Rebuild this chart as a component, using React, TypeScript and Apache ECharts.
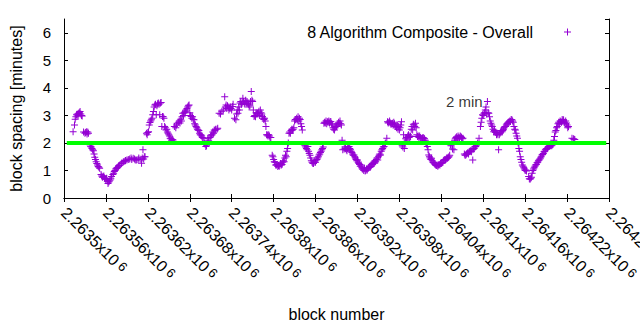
import React, { useEffect, useRef } from "react";
import * as echarts from "echarts";

const seriesName = "8 Algorithm Composite - Overall";
const baseBlock = 2263500;
const xMin = 2263500;
const xMax = 2264280;
const xStep = 60;
const yMin = 0;
const yMax = 6.5;
const yStep = 1;
const targetMinutes = 2;
const targetLine = [2263504, 2264276];
const targetLabel = "2 min";
const targetLabelPos = [2264046, 3.5];

// block offsets (from baseBlock) and block spacing in minutes
const blockOffsets = [
  13, 15, 16, 18, 21, 23, 26, 30, 32, 35, 37, 40, 42, 44, 46, 49, 51, 56, 61, 63, 66, 68, 72, 75, 80, 85, 90, 94, 99, 104,
  109, 111, 113, 116, 118, 121, 123, 125, 127, 128, 130, 132, 134, 137, 139, 140, 141, 144, 146, 149, 152, 156, 158, 162,
  167, 170, 175, 179, 182, 186, 189, 192, 196, 200, 203, 206, 211, 215, 220, 222, 230, 232, 237, 241, 246, 249, 256, 258,
  263, 268, 270, 272, 277, 281, 284, 287, 289, 291, 295, 299, 301, 306, 311, 315, 318, 320, 322, 327, 332, 337, 341, 344,
  349, 351, 356, 361, 365, 370, 372, 377, 382, 387, 390, 394, 399, 403, 408, 415, 420, 425, 430, 434, 439, 444, 449, 453,
  458, 462, 463, 470, 475, 480, 483, 487, 491, 496, 499, 501, 503, 506, 511, 515, 520, 522, 526, 530, 534, 539, 544, 549,
  553, 558, 563, 568, 571, 575, 580, 584, 585, 589, 594, 596, 599, 601, 603, 606, 608, 611, 615, 620, 622, 627, 632, 637,
  641, 646, 649, 651, 653, 656, 661, 668, 672, 675, 680, 684, 689, 694, 699, 702, 706, 711, 715, 720, 722, 727, 730,
];
const spacingMinutes = [
  2.41, 2.65, 2.86, 3.02, 3.08, 3.14, 2.98, 2.35, 2.41, 2.35, 1.93, 1.8, 1.72, 1.48, 1.32, 1.14, 1.08, 0.78, 0.72, 0.53,
  0.65, 0.78, 0.96, 1.08, 1.2, 1.32, 1.38, 1.42, 1.44, 1.38, 1.41, 1.26, 1.75, 1.5, 2.35, 2.41, 2.74, 2.84, 3.02, 3.14,
  3.38, 3.02, 3.42, 3.02, 3.47, 2.6, 2.96, 2.6, 2.47, 2.35, 2.17, 2.11, 2.6, 2.71, 2.86, 3.08, 3.2, 3.38, 2.96, 2.84, 2.6,
  2.47, 2.29, 2.17, 1.87, 2.17, 2.29, 2.47, 2.53, 3.08, 3.68, 3.38, 3.26, 3.32, 2.84, 3.08, 3.62, 3.44, 3.44, 3.87, 3.5,
  2.96, 3.08, 3.2, 2.96, 2.9, 2.6, 2.29, 2.2, 1.5, 1.32, 1.14, 1.2, 1.32, 1.5, 1.8, 2.35, 2.47, 2.84, 2.9, 2.47, 1.93,
  1.87, 1.62, 1.26, 1.38, 1.56, 1.8, 2.71, 2.77, 2.77, 2.47, 2.6, 2.71, 1.75, 1.8, 1.87, 1.56, 1.38, 1.2, 1.08, 1.02,
  1.14, 1.26, 1.38, 1.56, 1.87, 2.17, 2.77, 2.71, 2.6, 2.47, 2.77, 1.8, 2.11, 2.23, 2.47, 2.65, 2.71, 2.23, 2.17, 2.17,
  1.87, 1.56, 1.44, 1.26, 1.2, 1.26, 1.38, 1.44, 1.93, 1.75, 2.17, 2.23, 2.17, 1.56, 1.69, 1.75, 1.38, 1.87, 2.17, 2.6,
  3.02, 3.08, 3.2, 3.5, 3.08, 2.71, 2.41, 2.35, 1.75, 2.41, 2.6, 2.77, 2.84, 2.47, 2.17, 1.8, 1.5, 1.2, 1.02, 0.72, 1.05,
  1.2, 1.38, 1.56, 1.75, 1.87, 1.93, 2.23, 2.6, 2.77, 2.84, 2.65, 2.6, 2.17, 2.13,
];

// further readings inside the dense clusters
const clusterOffsets = [
  17, 19, 20, 22, 24, 25, 28, 31, 33, 34, 38, 39, 41, 43, 45, 47, 48, 50, 53, 54, 55, 57, 58, 59, 60, 62, 64, 65, 67,
  70, 71, 73, 74, 76, 77, 78, 79, 82, 83, 87, 88, 92, 96, 97, 101, 102, 106, 107, 112, 114, 115,
  119, 120, 122, 124, 126, 129, 131, 133, 135, 136, 138, 142, 143, 145, 147, 148, 150, 151, 153, 154, 155, 157,
  160, 161, 164, 165, 166, 168, 169, 171, 172, 173, 174, 176, 177, 178, 180, 181, 183, 184, 185, 187, 188, 190, 191,
  193, 194, 195, 197, 198, 201, 202, 204, 205, 207, 209, 210, 212, 213, 214, 216, 217, 219,
  224, 226, 228, 231, 233, 234, 235, 236, 238, 239, 240, 242, 244, 247, 248, 250, 251, 252, 253, 254, 255, 257, 259,
  260, 261, 262, 264, 265, 266, 267, 269, 271, 273, 274, 275, 276, 278, 279, 280, 282, 283, 285, 286, 288, 290, 292,
  293, 294, 296,
  298, 300, 302, 303, 304, 305, 307, 308, 309, 310, 312, 313, 314, 316, 317, 319, 321, 323, 324, 325, 326, 328, 329,
  330, 331, 333, 334, 335, 336, 338, 339, 340,
  345, 346, 347, 348, 350, 352, 353, 354, 355, 357, 358, 359, 360, 362, 363, 364, 366, 367, 368, 369, 371,
  373, 374, 375, 376, 378, 379, 380, 381, 383, 384, 385, 386, 388, 389, 391, 392, 393, 395, 396, 397, 398,
  401, 402, 404, 405, 406, 407, 409, 410, 411, 412, 413, 414, 416, 417, 418, 419, 421, 422, 423, 424, 426, 427, 428,
  429, 431, 432, 433, 435, 436, 437, 438, 440, 441, 442, 443, 445, 446, 447, 448, 450, 451, 452, 454, 455, 456, 457,
  459, 460,
  464, 465, 466, 467, 468, 469, 471, 472, 473, 474, 476, 477, 478, 479, 481, 482, 484, 485, 486, 488, 489, 490, 492,
  493, 494, 495, 497, 498, 500, 502, 504, 505, 507, 508, 509, 510, 512, 513, 514, 516, 517, 518, 519, 521, 523, 524,
  525, 527, 528, 529, 531, 532, 533, 535, 536, 537, 538, 540, 541, 542, 543, 545, 546, 547, 548, 550, 551, 552,
  554, 556, 559, 560, 561, 562, 564, 565, 566, 567, 569, 570, 573, 574, 576, 577, 578, 579, 581, 582, 583, 586, 587,
  588, 590, 592,
  597, 598, 600, 602, 604, 605, 607, 609, 610, 612, 613, 614, 616, 617, 618, 619, 621, 623, 624, 625, 626, 628, 629,
  630, 631, 633, 634, 635, 636, 638, 639, 640, 642, 643,
  644, 645, 647, 648, 650, 652, 654, 655, 657, 658, 659, 660, 662, 665, 666, 667, 669, 670, 671, 673, 674, 676, 677,
  678, 679, 681, 682, 683, 685, 686, 687, 688, 690, 691, 692, 693, 695, 696, 697, 698, 700,
  701, 703, 704, 705, 707, 708, 709, 710, 712, 713, 714, 716, 717, 718, 719, 721, 729, 731,
];
const clusterMinutes = [
  2.95, 3.05, 3.0, 3.1, 3.05, 3.0, 2.4, 2.38, 2.32, 2.4, 1.88, 1.85, 1.75, 1.6, 1.4, 1.25, 1.2, 1.12, 0.85, 0.8, 0.75,
  0.8, 0.72, 0.7, 0.68, 0.62, 0.58, 0.62, 0.7,
  0.85, 0.9, 1.0, 1.05, 1.1, 1.12, 1.15, 1.18, 1.25, 1.28, 1.33, 1.36, 1.4, 1.45, 1.4, 1.42, 1.38, 1.4, 1.45, 1.45,
  1.42, 1.5,
  2.3, 2.38, 2.65, 2.8, 2.9, 3.3, 3.4, 3.35, 3.45, 3.4, 3.45, 2.95, 2.9, 2.55, 2.5, 2.4, 2.3, 2.25, 2.15, 2.1, 2.12,
  2.05,
  2.55, 2.65, 2.75, 2.8, 2.72, 2.8, 2.95, 3.0, 3.1, 3.12, 3.15, 3.25, 3.3, 3.35, 3.1, 3.0, 2.9, 2.95, 2.85, 2.7, 2.65,
  2.55, 2.5, 2.45, 2.35, 2.3, 2.25, 2.2, 2.0, 1.95, 1.9, 2.0, 2.1, 2.2, 2.25, 2.3, 2.4, 2.35, 2.45, 2.5, 2.5,
  3.05, 3.15, 3.2, 3.3, 3.25, 3.35, 3.3, 3.2, 3.3, 3.25, 3.2, 3.4, 2.9, 3.05, 3.2, 3.3, 3.2, 3.45, 3.5, 3.4, 3.45, 3.5,
  3.4, 3.55, 3.45, 3.5, 3.4, 3.3, 3.35, 3.5, 3.55, 3.2, 3.0, 2.95, 3.1, 3.05, 3.1, 3.15, 3.0, 3.1, 3.05, 2.9, 2.85, 2.8,
  2.3, 2.25, 2.3, 2.25, 2.2,
  1.55, 1.4, 1.3, 1.2, 1.2, 1.22, 1.18, 1.15, 1.2, 1.25, 1.22, 1.3, 1.35, 1.45, 1.55, 1.7, 2.0, 2.4, 2.35, 2.45, 2.5,
  2.5, 2.55, 2.8, 2.85, 2.9, 2.85, 2.95, 2.8, 2.85, 2.7, 2.6,
  1.9, 1.85, 1.8, 1.75, 1.7, 1.55, 1.45, 1.35, 1.3, 1.25, 1.3, 1.35, 1.3, 1.4, 1.45, 1.5, 1.6, 1.65, 1.7, 1.75, 1.85,
  2.75, 2.72, 2.8, 2.7, 2.75, 2.8, 2.72, 2.78, 2.7, 2.65, 2.55, 2.5, 2.55, 2.6, 2.65, 2.7, 2.75, 2.8, 2.7, 2.65, 2.1,
  1.78, 1.85, 1.75, 1.72, 1.8, 1.85, 1.8, 1.75, 1.7, 1.65, 1.6, 1.55, 1.5, 1.45, 1.4, 1.35, 1.3, 1.25, 1.22, 1.15, 1.1,
  1.05, 1.05, 1.0, 0.98, 1.0, 1.05, 1.08, 1.1, 1.15, 1.12, 1.2, 1.22, 1.25, 1.3, 1.35, 1.32, 1.4, 1.45, 1.5, 1.55, 1.6,
  1.7, 1.75, 1.8, 1.85, 1.95, 2.0,
  2.72, 2.75, 2.8, 2.72, 2.68, 2.7, 2.65, 2.75, 2.7, 2.6, 2.55, 2.65, 2.5, 2.6, 2.55, 2.65, 1.9, 1.85, 2.3, 2.0, 2.15,
  2.2, 2.25, 2.3, 2.2, 2.25, 2.5, 2.6, 2.68, 2.6, 2.55, 2.3, 2.25, 2.2, 2.25, 2.2, 2.15, 2.18, 2.2, 2.15, 2.1, 2.0, 1.95,
  1.75, 1.5, 1.45, 1.4, 1.35, 1.3, 1.28, 1.22, 1.2, 1.18, 1.15, 1.2, 1.22, 1.2, 1.25, 1.28, 1.3, 1.35, 1.4, 1.38, 1.42,
  1.45, 1.48, 1.5, 1.55,
  1.9, 1.78, 2.1, 2.15, 2.2, 2.22, 2.25, 2.2, 2.18, 2.25, 2.2, 2.15, 1.6, 1.55, 1.6, 1.62, 1.65, 1.6, 1.7, 1.72, 1.68,
  1.78, 1.8, 1.85, 1.9, 2.0,
  2.75, 2.9, 3.0, 3.1, 3.3, 3.05, 3.1, 2.95, 2.8, 2.65, 2.6, 2.5, 2.45, 2.4, 2.38, 2.3, 2.3, 2.3, 2.35, 2.4, 2.45, 2.45,
  2.5, 2.55, 2.6, 2.65, 2.7, 2.72, 2.75, 2.8, 2.78, 2.85, 2.8, 2.75,
  2.6, 2.5, 2.35, 2.25, 2.0, 1.7, 1.4, 1.3, 1.15, 1.1, 1.05, 1.0, 0.98, 0.78, 0.7, 0.68, 0.75, 0.9, 1.0, 1.1, 1.15, 1.22,
  1.28, 1.3, 1.35, 1.42, 1.45, 1.5, 1.58, 1.62, 1.68, 1.7, 1.78, 1.8, 1.82, 1.85, 1.88, 1.9, 1.92, 1.9, 1.95,
  2.1, 2.4, 2.45, 2.55, 2.7, 2.75, 2.7, 2.8, 2.75, 2.85, 2.8, 2.75, 2.7, 2.8, 2.72, 2.55, 2.15, 2.12,
];

const PLUS = "path://M3,0h1v3h3v1h-3v3h-1v-3h-3v-1h3z";
const FONT = "'Liberation Sans', Arial, sans-serif";
const PURPLE = "#9400d3";

export default function App() {
  const ref = useRef<HTMLDivElement>(null);
  useEffect(() => {
    if (!ref.current) return;
    const chart = echarts.init(ref.current, undefined, { renderer: "svg" });
    const points = blockOffsets
      .map((o, i) => [baseBlock + o, spacingMinutes[i]])
      .concat(clusterOffsets.map((o, i) => [baseBlock + o, clusterMinutes[i]]));
    const axisLine = { show: true, lineStyle: { color: "#000", width: 1 } };
    const tick = { show: true, inside: true, length: 4, lineStyle: { color: "#000" } };
    const xLabelFmt = (v: number) => {
      const m = parseFloat((v / 1e6).toFixed(5));
      return `{b|${m}x10} {s|6}`;
    };
    chart.setOption({
      animation: false,
      backgroundColor: "#fff",
      textStyle: { fontFamily: FONT },
      grid: { left: 64, top: 19, width: 545, height: 179, show: false, outerBoundsMode: "none", containLabel: false },
      legend: {
        data: [{ name: seriesName, icon: PLUS }],
        align: "right",
        right: 69,
        top: 23,
        padding: 0,
        itemWidth: 7,
        itemHeight: 7,
        textStyle: { fontSize: 16, color: "#000", fontFamily: FONT, padding: [0, 26, 0, 0], lineHeight: 18 },
        selectedMode: false,
      },
      xAxis: [
        {
          type: "value",
          min: xMin,
          max: xMax,
          interval: xStep,
          position: "bottom",
          name: "block number",
          nameLocation: "middle",
          nameGap: 108,
          nameTextStyle: { fontSize: 16, color: "#000", fontFamily: FONT },
          axisLine,
          axisTick: tick,
          splitLine: { show: false },
          axisLabel: {
            rotate: -45,
            margin: 12,
            showMaxLabel: true,
            showMinLabel: true,
            formatter: xLabelFmt,
            color: "#000",
            rich: {
              b: { fontSize: 16, color: "#000", fontFamily: FONT },
              s: { fontSize: 13, color: "#000", fontFamily: FONT, verticalAlign: "top" },
            },
          },
        },
        {
          type: "value",
          min: xMin,
          max: xMax,
          interval: xStep,
          position: "top",
          axisLine,
          axisTick: tick,
          splitLine: { show: false },
          axisLabel: { show: false },
        },
      ],
      yAxis: [
        {
          type: "value",
          min: yMin,
          max: yMax,
          interval: yStep,
          position: "left",
          name: "block spacing [minutes]",
          nameLocation: "middle",
          nameGap: 40,
          nameTextStyle: { fontSize: 16, color: "#000", fontFamily: FONT },
          axisLine,
          axisTick: tick,
          splitLine: { show: false },
          axisLabel: { margin: 13, fontSize: 15, color: "#000", fontFamily: FONT, showMaxLabel: false },
        },
        {
          type: "value",
          min: yMin,
          max: yMax,
          interval: yStep,
          position: "right",
          axisLine,
          axisTick: tick,
          splitLine: { show: false },
          axisLabel: { show: false },
        },
      ],
      series: [
        {
          name: seriesName,
          type: "scatter",
          symbol: PLUS,
          symbolSize: 7,
          itemStyle: { color: PURPLE, opacity: 1 },
          data: points,
          z: 2,
        },
        {
          name: "target",
          type: "line",
          symbol: "none",
          lineStyle: { color: "#00ff00", width: 4 },
          data: targetLine.map((b) => [b, targetMinutes]),
          z: 3,
          silent: true,
        },
        {
          name: "label",
          type: "scatter",
          symbolSize: 1,
          itemStyle: { color: "transparent" },
          silent: true,
          label: {
            show: true,
            position: "right",
            distance: 0,
            formatter: targetLabel,
            fontSize: 15,
            color: "#000",
            fontFamily: FONT,
          },
          data: [targetLabelPos],
          z: 4,
        },
      ],
    });
    return () => chart.dispose();
  }, []);
  return <div ref={ref} style={{ position: "fixed", left: 0, top: 0, width: 640, height: 330 }} />;
}
